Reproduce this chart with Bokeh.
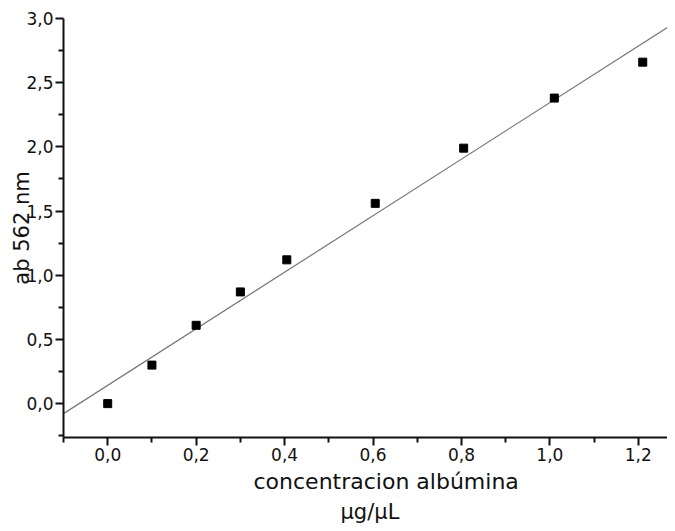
import numpy as np
from bokeh.plotting import figure
from bokeh.models import Range1d, FixedTicker, CustomJSTickFormatter, Title
from bokeh.embed import file_html
from bokeh.resources import INLINE

# ---- data ----
conc = [0.0, 0.1, 0.2, 0.3, 0.405, 0.605, 0.805, 1.01, 1.21]
absorb = [0.0, 0.30, 0.61, 0.87, 1.12, 1.56, 1.99, 2.38, 2.66]
x_ticks = [0.0, 0.2, 0.4, 0.6, 0.8, 1.0, 1.2]
x_minor = [-0.1, 0.1, 0.3, 0.5, 0.7, 0.9, 1.1]
y_ticks = [0.0, 0.5, 1.0, 1.5, 2.0, 2.5, 3.0]
y_minor = [-0.25, 0.25, 0.75, 1.25, 1.75, 2.25, 2.75]
x_title = "concentracion albúmina"
x_unit = "µg/µL"
y_title = "ab 562 nm"

# ---- layout ----
W, H = 667, 523
FL, FR, FT, FB = 63, 667, 18, 439
X0, X1 = -0.1, 1.266
Y0, Y1 = -0.264, 3.0
FONT = "DejaVu Sans"
INK = "#111111"

p = figure(width=W, height=H, output_backend="svg", toolbar_location=None,
           x_range=Range1d(X0, X1), y_range=Range1d(Y0, Y1),
           min_border_left=FL, min_border_right=W - FR,
           min_border_top=FT, min_border_bottom=H - FB)
p.outline_line_color = None
p.grid.visible = False
p.background_fill_color = "white"
p.border_fill_color = "white"

fmt = CustomJSTickFormatter(code="return tick.toFixed(1).replace('.', ',');")
for ax, majors, minors in ((p.xaxis[0], x_ticks, x_minor), (p.yaxis[0], y_ticks, y_minor)):
    ax.ticker = FixedTicker(ticks=majors, minor_ticks=minors)
    ax.formatter = fmt
    ax.axis_line_color = INK
    ax.axis_line_width = 2
    ax.major_tick_line_color = INK
    ax.major_tick_line_width = 2
    ax.minor_tick_line_color = INK
    ax.minor_tick_line_width = 2
    ax.major_tick_in = 0
    ax.major_tick_out = 8
    ax.minor_tick_in = 0
    ax.minor_tick_out = 5
    ax.major_label_text_font = FONT
    ax.major_label_text_font_size = "17px"
    ax.major_label_text_color = INK
    ax.major_label_standoff = 2
    ax.axis_label_text_font = FONT
    ax.axis_label_text_font_size = "21px"
    ax.axis_label_text_font_style = "normal"
    ax.axis_label_text_color = INK

p.yaxis[0].axis_label = y_title
p.yaxis[0].axis_label_standoff = -11

# x-axis title in two lines, placed as below-panel titles
p.add_layout(Title(text=x_title, align="left", offset=190, standoff=7,
                   text_font=FONT, text_font_size="22px", text_font_style="normal",
                   text_color=INK), "below")
p.add_layout(Title(text=x_unit, align="left", offset=277, standoff=0,
                   text_font=FONT, text_font_size="21px", text_font_style="normal",
                   text_color=INK), "below")

# fitted line (least squares on the data)
slope, intercept = np.polyfit(conc, absorb, 1)
lx = np.array([X0, X1])
p.line(lx, slope * lx + intercept, line_color="#777777", line_width=1.2)

p.scatter(conc, absorb, marker="square", size=8, fill_color="black", line_color="black")

open("out.html", "w").write(file_html(p, INLINE))
